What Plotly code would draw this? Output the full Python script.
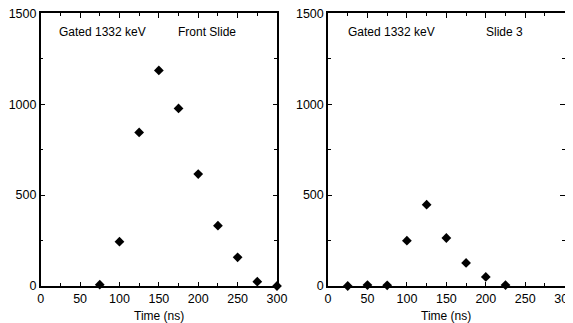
import plotly.graph_objects as go

# Data
t_front = [75, 100, 125, 150, 175, 200, 225, 250, 275, 300]
c_front = [7, 244, 845, 1186, 977, 616, 332, 158, 24, 0]
t_slide3 = [25, 50, 75, 100, 125, 150, 175, 200, 225]
c_slide3 = [0, 5, 4, 249, 447, 264, 127, 50, 5]
gate_label = "Gated 1332 keV"
panel_labels = ["Front Slide", "Slide 3"]
x_title = "Time (ns)"

font = dict(family="Liberation Sans, Arial, sans-serif", size=12, color="black")
tfont = dict(family="Liberation Sans, Arial, sans-serif", size=12.5, color="black")

# page body has an 8px margin; figure is sized to fill the rest of the window
OFF = 8
W, H = 573 - OFF, 323 - OFF

def fx(px):
    return (px - OFF) / W

def fy(py):
    return 1 - (py - OFF) / H

fig = go.Figure()
fig.add_trace(go.Scatter(x=t_front, y=c_front, mode="markers", xaxis="x", yaxis="y",
                         marker=dict(symbol="diamond", size=7.5, color="black"), cliponaxis=False))
fig.add_trace(go.Scatter(x=t_slide3, y=c_slide3, mode="markers", xaxis="x2", yaxis="y2",
                         marker=dict(symbol="diamond", size=7.5, color="black"), cliponaxis=False))

axis_common = dict(showgrid=False, zeroline=False, showline=True, linecolor="black", linewidth=1.5,
                   mirror="allticks", ticks="inside", ticklen=4.5, tickwidth=1, tickcolor="black",
                   tickfont=tfont, automargin=False, ticklabeloverflow="allow")
xaxis_common = dict(axis_common, range=[0, 300], dtick=50, tick0=0,
                    minor=dict(dtick=25, ticks="inside", ticklen=3, tickcolor="black"))
yaxis_common = dict(axis_common, range=[0, 1500], dtick=500, tick0=0,
                    minor=dict(dtick=250, ticks="inside", ticklen=3, tickcolor="black"))

yb, yt = fy(286), fy(13.3)
fig.update_layout(
    width=W, height=H, margin=dict(l=0, r=0, t=0, b=0),
    paper_bgcolor="white", plot_bgcolor="white", showlegend=False, font=font,
    xaxis=dict(xaxis_common, domain=[fx(40.7), fx(277)], anchor="y"),
    yaxis=dict(yaxis_common, domain=[yb, yt], anchor="x"),
    xaxis2=dict(xaxis_common, domain=[fx(328), fx(564.7)], anchor="y2"),
    yaxis2=dict(yaxis_common, domain=[yb, yt], anchor="x2"),
    annotations=[
        dict(x=78, y=1395, xref="x", yref="y", text=gate_label, showarrow=False, font=font),
        dict(x=211, y=1395, xref="x", yref="y", text=panel_labels[0], showarrow=False, font=font),
        dict(x=80, y=1395, xref="x2", yref="y2", text=gate_label, showarrow=False, font=font),
        dict(x=224, y=1395, xref="x2", yref="y2", text=panel_labels[1], showarrow=False, font=font),
        dict(x=150, y=fy(308), xref="x", yref="paper", yanchor="top", text=x_title,
             showarrow=False, font=font, borderpad=0),
        dict(x=150, y=fy(308), xref="x2", yref="paper", yanchor="top", text=x_title,
             showarrow=False, font=font, borderpad=0),
    ],
)

fig.write_html("out.html")
